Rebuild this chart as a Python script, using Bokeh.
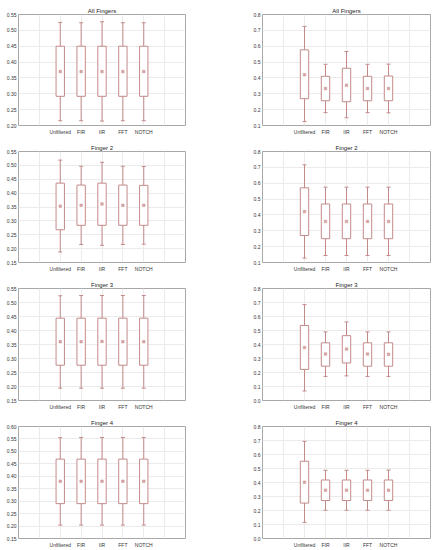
from bokeh.plotting import figure
from bokeh.layouts import gridplot
from bokeh.models import Range1d, FixedTicker, PrintfTickFormatter, ColumnDataSource
from bokeh.embed import file_html
from bokeh.resources import INLINE

categories = ["Unfiltered", "FIR", "IIR", "FFT", "NOTCH"]

# --- All Fingers (left) ---
p1l_top = [0.525, 0.524, 0.527, 0.524, 0.524]
p1l_q3 = [0.450, 0.450, 0.450, 0.450, 0.450]
p1l_mean = [0.370, 0.370, 0.370, 0.370, 0.370]
p1l_q1 = [0.292, 0.292, 0.292, 0.292, 0.292]
p1l_low = [0.215, 0.215, 0.214, 0.215, 0.215]
# --- All Fingers (right) ---
p1r_top = [0.725, 0.486, 0.567, 0.486, 0.487]
p1r_q3 = [0.577, 0.410, 0.461, 0.410, 0.412]
p1r_mean = [0.420, 0.333, 0.354, 0.333, 0.333]
p1r_q1 = [0.269, 0.256, 0.250, 0.256, 0.256]
p1r_low = [0.125, 0.181, 0.149, 0.181, 0.180]
# --- Finger 2 (left) ---
p2l_top = [0.519, 0.497, 0.511, 0.497, 0.496]
p2l_q3 = [0.436, 0.429, 0.436, 0.429, 0.428]
p2l_mean = [0.353, 0.356, 0.361, 0.356, 0.356]
p2l_q1 = [0.268, 0.284, 0.284, 0.284, 0.284]
p2l_low = [0.188, 0.215, 0.212, 0.215, 0.216]
# --- Finger 2 (right) ---
p2r_top = [0.716, 0.575, 0.575, 0.575, 0.575]
p2r_q3 = [0.571, 0.469, 0.469, 0.469, 0.469]
p2r_mean = [0.421, 0.359, 0.359, 0.359, 0.359]
p2r_q1 = [0.270, 0.250, 0.250, 0.250, 0.250]
p2r_low = [0.128, 0.144, 0.144, 0.144, 0.144]
# --- Finger 3 (left) ---
p3l_top = [0.524, 0.525, 0.525, 0.525, 0.525]
p3l_q3 = [0.444, 0.444, 0.444, 0.444, 0.444]
p3l_mean = [0.360, 0.360, 0.361, 0.360, 0.360]
p3l_q1 = [0.276, 0.276, 0.276, 0.276, 0.276]
p3l_low = [0.194, 0.194, 0.194, 0.194, 0.194]
# --- Finger 3 (right) ---
p3r_top = [0.685, 0.490, 0.561, 0.490, 0.490]
p3r_q3 = [0.536, 0.412, 0.463, 0.412, 0.412]
p3r_mean = [0.378, 0.332, 0.367, 0.332, 0.330]
p3r_q1 = [0.222, 0.245, 0.268, 0.245, 0.245]
p3r_low = [0.068, 0.172, 0.176, 0.172, 0.172]
# --- Finger 4 (left) ---
p4l_top = [0.555, 0.556, 0.556, 0.556, 0.556]
p4l_q3 = [0.469, 0.469, 0.469, 0.469, 0.469]
p4l_mean = [0.380, 0.380, 0.380, 0.380, 0.380]
p4l_q1 = [0.290, 0.290, 0.290, 0.290, 0.290]
p4l_low = [0.204, 0.204, 0.204, 0.204, 0.204]
# --- Finger 4 (right) ---
p4r_top = [0.694, 0.487, 0.487, 0.487, 0.489]
p4r_q3 = [0.552, 0.418, 0.418, 0.418, 0.418]
p4r_mean = [0.402, 0.345, 0.345, 0.345, 0.345]
p4r_q1 = [0.253, 0.271, 0.271, 0.271, 0.271]
p4r_low = [0.115, 0.202, 0.202, 0.202, 0.202]

titles = ["All Fingers", "Finger 2", "Finger 3", "Finger 4"]
left_yticks = [
    [0.20, 0.25, 0.30, 0.35, 0.40, 0.45, 0.50, 0.55],
    [0.15, 0.20, 0.25, 0.30, 0.35, 0.40, 0.45, 0.50, 0.55],
    [0.15, 0.20, 0.25, 0.30, 0.35, 0.40, 0.45, 0.50, 0.55],
    [0.15, 0.20, 0.25, 0.30, 0.35, 0.40, 0.45, 0.50, 0.55, 0.60],
]
right_yticks = [
    [0.1, 0.2, 0.3, 0.4, 0.5, 0.6, 0.7, 0.8],
    [0.1, 0.2, 0.3, 0.4, 0.5, 0.6, 0.7, 0.8],
    [0.0, 0.1, 0.2, 0.3, 0.4, 0.5, 0.6, 0.7, 0.8],
    [0.0, 0.1, 0.2, 0.3, 0.4, 0.5, 0.6, 0.7, 0.8],
]

left_data = [
    (p1l_top, p1l_q3, p1l_mean, p1l_q1, p1l_low),
    (p2l_top, p2l_q3, p2l_mean, p2l_q1, p2l_low),
    (p3l_top, p3l_q3, p3l_mean, p3l_q1, p3l_low),
    (p4l_top, p4l_q3, p4l_mean, p4l_q1, p4l_low),
]
right_data = [
    (p1r_top, p1r_q3, p1r_mean, p1r_q1, p1r_low),
    (p2r_top, p2r_q3, p2r_mean, p2r_q1, p2r_low),
    (p3r_top, p3r_q3, p3r_mean, p3r_q1, p3r_low),
    (p4r_top, p4r_q3, p4r_mean, p4r_q1, p4r_low),
]

BOX = "#c48a8a"
FONT = "Liberation Sans"
row_heights = [137, 137, 138, 138]


def make_panel(title, data, yticks, fmt, width, height, bl, br):
    top, q3, mean, q1, low = data
    xs = list(range(len(categories)))
    src = ColumnDataSource(dict(x=xs, top=top, q3=q3, mean=mean, q1=q1, low=low))
    p = figure(width=width, height=height, output_backend="svg", toolbar_location=None,
               x_range=Range1d(-2, 6), y_range=Range1d(yticks[0], yticks[-1]),
               min_border_left=bl, min_border_right=br, min_border_top=14, min_border_bottom=9,
               title=title)
    p.title.text_font = FONT
    p.title.text_font_size = "6px"
    p.title.text_font_style = "normal"
    p.title.text_color = "#222222"
    p.title.align = "center"
    p.title.standoff = 2
    p.title.offset = 0
    p.outline_line_color = "#a8a8a8"
    p.outline_line_width = 1
    p.background_fill_color = "white"
    p.border_fill_color = "white"

    p.xaxis.ticker = FixedTicker(ticks=[-1, 0, 1, 2, 3, 4, 5])
    p.xaxis.major_label_overrides = {-1: "", 5: "", **{i: c for i, c in enumerate(categories)}}
    p.yaxis.ticker = FixedTicker(ticks=yticks)
    p.yaxis.formatter = PrintfTickFormatter(format=fmt)
    for ax in (p.xaxis, p.yaxis):
        ax.axis_line_color = None
        ax.major_tick_line_color = None
        ax.minor_tick_line_color = None
        ax.major_tick_out = 0
        ax.major_tick_in = 0
        ax.minor_tick_out = 0
        ax.minor_tick_in = 0
        ax.major_label_text_font = FONT
        ax.major_label_text_font_size = "5px"
        ax.major_label_text_color = "#333333"
        ax.major_label_standoff = 2
    p.xaxis.major_label_standoff = 3
    p.xgrid.grid_line_color = "#ebebeb"
    p.ygrid.grid_line_color = "#ebebeb"
    p.xgrid.ticker = FixedTicker(ticks=[-1, 0, 1, 2, 3, 4, 5])

    p.segment(x0="x", y0="low", x1="x", y1="top", source=src, line_color=BOX, line_width=1)
    p.scatter(x="x", y="top", source=src, marker="dash", size=4, line_color=BOX, line_width=1)
    p.scatter(x="x", y="low", source=src, marker="dash", size=4, line_color=BOX, line_width=1)
    p.vbar(x="x", width=0.4, top="q3", bottom="q1", source=src,
           fill_color="white", line_color=BOX, line_width=1)
    p.scatter(x="x", y="mean", source=src, marker="square", size=2.5,
              fill_color="#dcaaaa", line_color=BOX, line_width=0.5)
    return p


rows = []
for i in range(4):
    h = row_heights[i]
    pl = make_panel(titles[i], left_data[i], left_yticks[i], "%.2f", 220, h, 18, 35)
    pr = make_panel(titles[i], right_data[i], right_yticks[i], "%.1f", 219, h, 42, 9)
    rows.append([pl, pr])

grid = gridplot(rows, toolbar_location=None)

open("out.html", "w").write(file_html(grid, INLINE))
